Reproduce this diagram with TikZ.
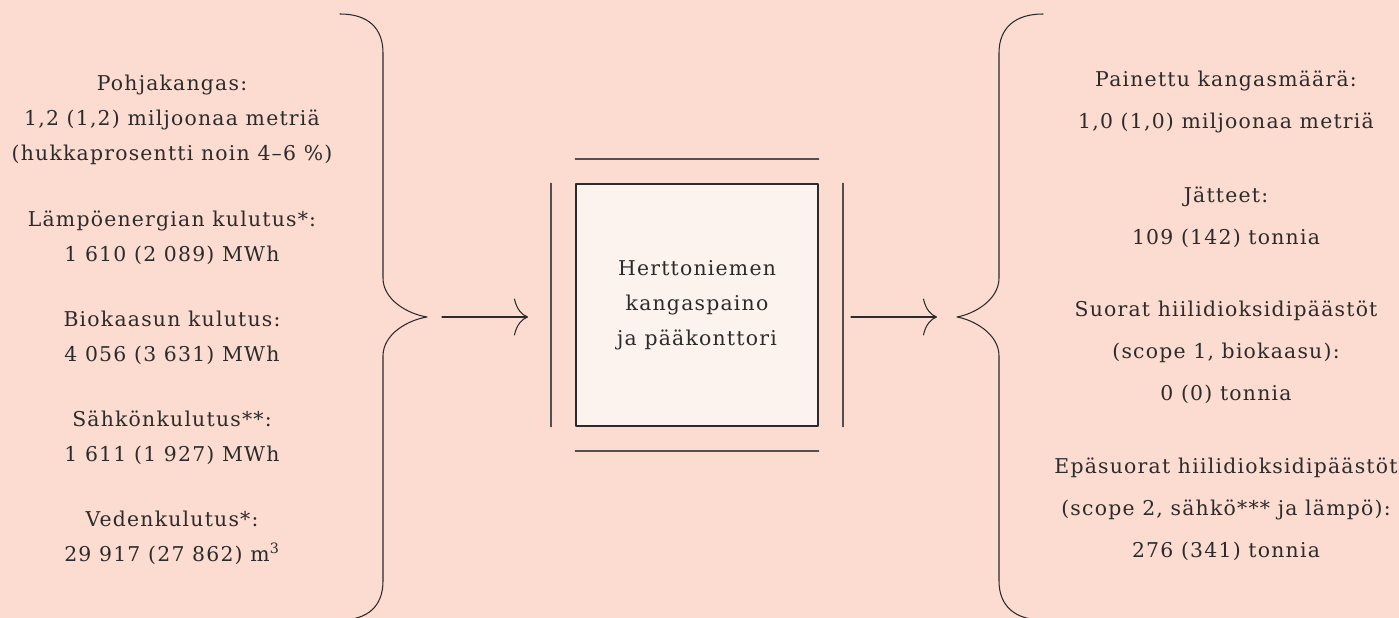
\documentclass[tikz,border=0pt]{standalone}
\usepackage{fontspec}
\setmainfont[LetterSpace=6]{DejaVu Serif}
\usetikzlibrary{arrows.meta}
\definecolor{taustapeach}{HTML}{FCDCD0}
\definecolor{laatikko}{HTML}{FCF2EE}
\definecolor{muste}{HTML}{2B2B2B}
\definecolor{harmaa}{HTML}{555050}
\begin{document}
\begin{tikzpicture}[line cap=round,line join=round,x=0.02cm,y=0.02cm,
  teksti/.style={align=center,text=muste,font=\fontsize{11.6}{19.8}\selectfont},
  teksti2/.style={teksti,font=\fontsize{11.6}{23.8}\selectfont},
  viiva/.style={draw=muste,line width=0.6pt},
  kehys/.style={draw=harmaa,line width=0.9pt},
  nuoli/.style={viiva,-{Computer Modern Rightarrow[length=8pt,width=21pt]}}]
\fill[taustapeach] (0,0) rectangle (1399,618);
\useasboundingbox (0,0) rectangle (1399,618);
\clip (0,0) rectangle (1399,618);
% syotteet
\node[teksti] (in1) at (172,498) {Pohjakangas:\\1,2 (1,2) miljoonaa metriä\\(hukkaprosentti noin 4--6 \%)};
\node[teksti] (in2) at (172,380) {Lämpöenergian kulutus*:\\1 610 (2 089) MWh};
\node[teksti] (in3) at (172,280) {Biokaasun kulutus:\\4 056 (3 631) MWh};
\node[teksti] (in4) at (172,180) {Sähkönkulutus**:\\1 611 (1 927) MWh};
\node[teksti] (in5) at (172,80) {Vedenkulutus*:\\29 917 (27 862) m\textsuperscript{3}};
% vasen aaltosulje
\coordinate (vkarki) at (427,301);
\draw[viiva] (340,604) .. controls (368,604) and (383,590) .. (383,565) -- (383,340)
  .. controls (383,318) and (408,304) .. (vkarki)
  .. controls (408,298) and (383,284) .. (383,262) -- (383,37)
  .. controls (383,12) and (368,-2) .. (340,-2);
% tehdas
\node[draw=muste,line width=0.7pt,fill=laatikko,
  minimum size=4.84cm,inner sep=0pt] (paino) at (697,313) {};
\node[teksti] (nimi) at (697,313) {Herttoniemen\\kangaspaino\\ja pääkonttori};
\draw[kehys] ([yshift=14]paino.north west) -- ([yshift=14]paino.north east);
\draw[kehys] ([yshift=-14]paino.south west) -- ([yshift=-14]paino.south east);
\draw[kehys] ([xshift=-14]paino.north west) -- ([xshift=-14]paino.south west);
\draw[kehys] ([xshift=14]paino.north east) -- ([xshift=14]paino.south east);
\coordinate (nuoli1a) at (442,301);
\coordinate (nuoli1b) at (528,301);
\coordinate (nuoli2a) at (851,301);
\coordinate (nuoli2b) at (937,301);
\draw[nuoli] (nuoli1a) -- (nuoli1b);
\draw[nuoli] (nuoli2a) -- (nuoli2b);
% oikea aaltosulje
\coordinate (okarki) at (957,301);
\draw[viiva] (1043,604) .. controls (1015,604) and (999,590) .. (999,565) -- (999,340)
  .. controls (999,318) and (974,304) .. (okarki)
  .. controls (974,298) and (999,284) .. (999,262) -- (999,37)
  .. controls (999,12) and (1015,-2) .. (1043,-2);
% tuotokset
\node[teksti2] (out1) at (1226,516) {Painettu kangasmäärä:\\1,0 (1,0) miljoonaa metriä};
\node[teksti2] (out2) at (1226,401) {Jätteet:\\109 (142) tonnia};
\node[teksti2] (out3) at (1226,266) {Suorat hiilidioksidipäästöt\\(scope 1, biokaasu):\\0 (0) tonnia};
\node[teksti2] (out4) at (1226,109) {Epäsuorat hiilidioksidipäästöt\\(scope 2, sähkö*** ja lämpö):\\276 (341) tonnia};
\end{tikzpicture}
\end{document}
